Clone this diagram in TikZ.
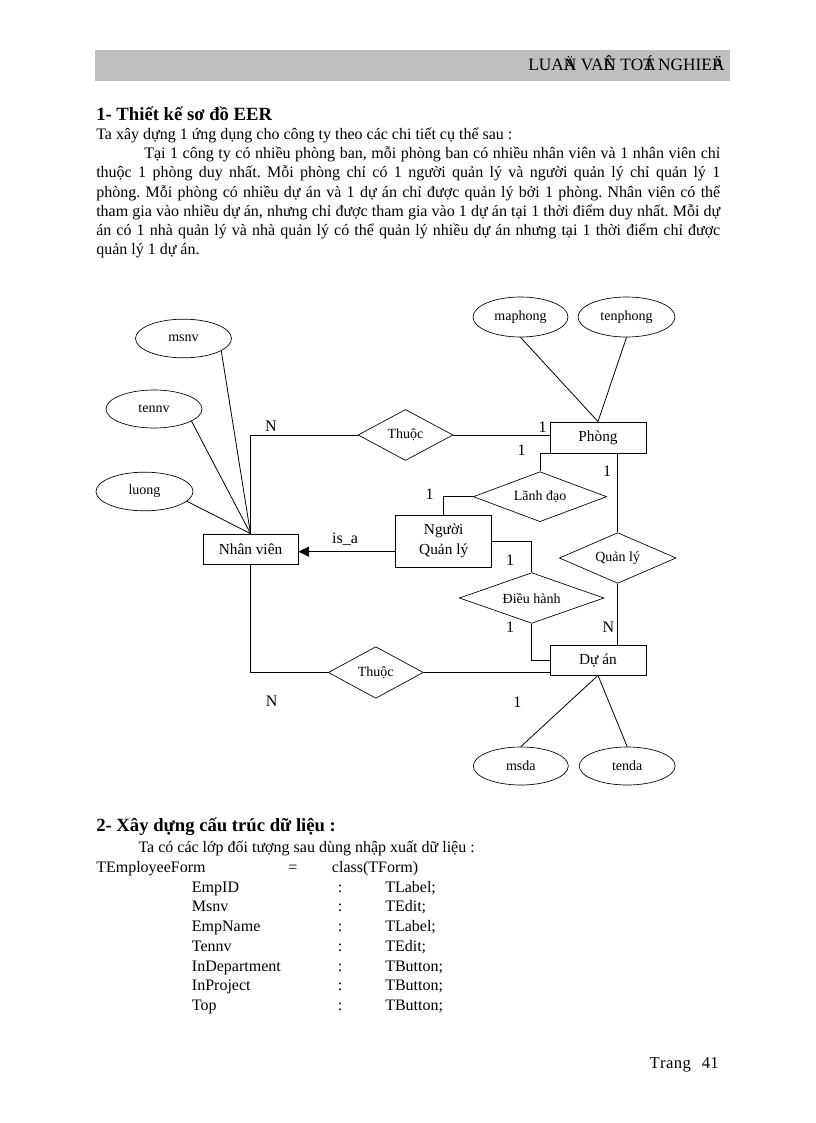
\documentclass[tikz,border=0pt]{standalone}
\usepackage{fontspec}
\setmainfont{Liberation Serif}
\usetikzlibrary{shapes.geometric,arrows.meta}
\newcommand\ovl[2]{\makebox[0pt][l]{#1}#2}
\newcommand\fsz[1]{\fontsize{#1}{#1}\selectfont}
\definecolor{barcol}{RGB}{192,190,192}
\frenchspacing
\begin{document}
\begin{tikzpicture}[x=0.75pt,y=-0.75pt,
  txt/.style={anchor=base west, inner sep=0pt, font=\fsz{12pt}},
  ctr/.style={anchor=base, inner sep=0pt, font=\fsz{12pt}},
  head/.style={anchor=base west, inner sep=0pt, font=\fsz{14pt}\bfseries},
  ent/.style={draw, rectangle, inner sep=0pt, minimum width=72pt, minimum height=22.5pt, font=\fsz{11.5pt}, line width=0.6pt, align=center},
  attr/.style={draw, ellipse, inner sep=0pt, minimum width=72pt, minimum height=29pt, font=\fsz{10.5pt}, line width=0.5pt},
  rel/.style={draw, diamond, inner sep=0pt, line width=0.5pt},
  card/.style={inner sep=0pt, font=\fsz{12pt}},
  conn/.style={line width=0.6pt},
  every label/.style={font=\fsz{10.5pt}, inner sep=0pt},
  ]
\useasboundingbox (0,0) rectangle (816,1123);

% header bar
\fill[barcol] (95,50) rectangle (730,81);
\node[anchor=base east, inner sep=0pt, font=\fsz{13pt}] (hdr) at (722,70.7)
  {LUA\ovl{Ä}{N} VA\ovl{Ê}{N} TO\ovl{Á}{T} NGHIE\ovl{Ä}{P}};

% section 1
\node[head] (h1) at (96,121) {1- Thiết kế sơ đồ EER};
\node[txt] (p1) at (96,139.5) {Ta xây dựng 1 ứng dụng cho công ty theo các chi tiết cụ thể sau :};
\node[txt] (p2) at (144,158.7) {\makebox[432pt][s]{Tại 1 công ty có nhiều phòng ban, mỗi phòng ban có nhiều nhân viên và 1 nhân viên chỉ}};
\node[txt] (p3) at (96,177.9) {\makebox[468pt][s]{thuộc 1 phòng duy nhất. Mỗi phòng chỉ có 1 người quản lý và người quản lý chỉ quản lý 1}};
\node[txt] (p4) at (96,197.1) {\makebox[468pt][s]{phòng. Mỗi phòng có nhiều dự án và 1 dự án chỉ được quản lý bởi 1 phòng. Nhân viên có thể}};
\node[txt] (p5) at (96,216.3) {\makebox[468pt][s]{tham gia vào nhiều dự án, nhưng chỉ được tham gia vào 1 dự án tại 1 thời điểm duy nhất. Mỗi dự}};
\node[txt] (p6) at (96,235.5) {\makebox[468pt][s]{án có 1 nhà quản lý và nhà quản lý có thể quản lý nhiều dự án nhưng tại 1 thời điểm chỉ được}};
\node[txt] (p7) at (96,254.7) {quản lý 1 dự án.};

% ===== EER diagram =====
% entities
\node[ent, minimum width=71.25pt] (nv) at (250.5,549) {Nhân viên};
\node[ent, minimum height=23.25pt] (ph) at (598,437.5) {Phòng};
\node[ent, minimum height=39pt] (nql) at (443.7,541) {Người\\[3.5pt]Quản lý};
\node[ent] (da) at (598,660) {Dự án};

% attributes
\node[attr] (msnv) at (183.5,338.5) {msnv};
\node[attr, minimum height=28.5pt] (tennv) at (154,409) {tennv};
\node[attr, minimum width=72.75pt] (luong) at (144.5,491.5) {luong};
\node[attr, minimum width=71.25pt, minimum height=30pt] (maph) at (520.5,317) {maphong};
\node[attr, minimum width=72.75pt, minimum height=30pt] (tenph) at (626.5,317) {tenphong};
\node[attr, minimum width=71.25pt, minimum height=28.5pt] (msda) at (520.8,766) {msda};
\node[attr, minimum height=28.5pt] (tenda) at (627.2,766) {tenda};

% relationships
\node[rel, minimum width=71.25pt, minimum height=38.25pt, label=center:Thuộc] (th1) at (405.5,435) {};
\node[rel, minimum width=100pt, minimum height=37.5pt, label=center:Lãnh đạo] (ld) at (540,496.7) {};
\node[rel, minimum width=87.5pt, minimum height=38pt, label=center:Quản lý] (ql) at (617.7,558) {};
\node[rel, minimum width=108.5pt, minimum height=38pt, label=center:Điều hành] (dh) at (531.7,598) {};
\node[rel, minimum width=71.25pt, minimum height=38.7pt, label=center:Thuộc] (th2) at (375.8,672.5) {};

% attribute links
\draw[conn] (msnv.-18) -- (nv.north);
\draw[conn] (tennv.-18) -- (nv.north);
\draw[conn] (luong.-13) -- (nv.north);
\draw[conn] (maph.south) -- (ph.north);
\draw[conn] (tenph.south) -- (ph.north);
\draw[conn] (da.south) -- (msda.north);
\draw[conn] (da.south) -- (tenda.north);

% relationship links
\draw[conn] (nv.north) |- (th1.west);
\draw[conn] (th1.east) -- (th1.east -| ph.west);
\draw[conn] (ph.south west) -| (ld.north);
\draw[conn] (ld.west) -| (nql.north);
\draw[conn] (ql.north) -- (ql.north |- ph.south);
\draw[conn] (ql.south) -- (ql.south |- da.north);
\draw[conn] (nql.east) -| (dh.north);
\draw[conn] (dh.south) |- (da.west);
\draw[conn] (nv.south) |- (th2.west);
\draw[conn] (th2.east) -- (th2.east -| da.west);
\draw[conn, -{Triangle[length=8pt,width=7.5pt]}] ([yshift=-8pt]nql.west) -- ([yshift=-8pt]nql.west -| nv.east);

% cardinalities
\node[card] (c1) at (271,426.7) {N};
\node[card] (c2) at (542.7,427.3) {1};
\node[card] (c3) at (521.7,450) {1};
\node[card] (c4) at (607,471.7) {1};
\node[card] (c5) at (429.5,494) {1};
\node[card] (c6) at (345,539.3) {is\_a};
\node[card] (c7) at (510,560) {1};
\node[card] (c8) at (510,627.3) {1};
\node[card] (c9) at (608.3,627.3) {N};
\node[card] (c10) at (271.7,701.7) {N};
\node[card] (c11) at (517.3,702.7) {1};

% section 2
\node[head] (h2) at (96,831.5) {2- Xây dựng cấu trúc dữ liệu :};
\node[txt] (q1) at (138.3,852.5) {Ta có các lớp đối tượng sau dùng nhập xuất dữ liệu :};
\node[txt] (cls) at (96,872.5) {TEmployeeForm};
\node[ctr] (eq) at (293,872.5) {=};
\node[txt] (clt) at (331.7,872.5) {class(TForm)};
\foreach \nm/\tp [count=\i] in {EmpID/TLabel;, Msnv/TEdit;, EmpName/TLabel;, Tennv/TEdit;, InDepartment/TButton;, InProject/TButton;, Top/TButton;}{
  \node[txt] (rn\i) at (191.7,872.5+19.7*\i) {\nm};
  \node[ctr] (rc\i) at (340,872.5+19.7*\i) {:};
  \node[txt] (rt\i) at (385,872.5+19.7*\i) {\tp};
}

% footer
\node[anchor=base west, inner sep=0pt, font=\fsz{12.5pt}] (pg) at (649.3,1068.3) {T\kern0.3pt r\kern0.3pt a\kern0.3pt n\kern0.3pt g};
\node[anchor=base west, inner sep=0pt, font=\fsz{12.5pt}] (pgn) at (701.7,1068.3) {41};
\end{tikzpicture}
\end{document}
